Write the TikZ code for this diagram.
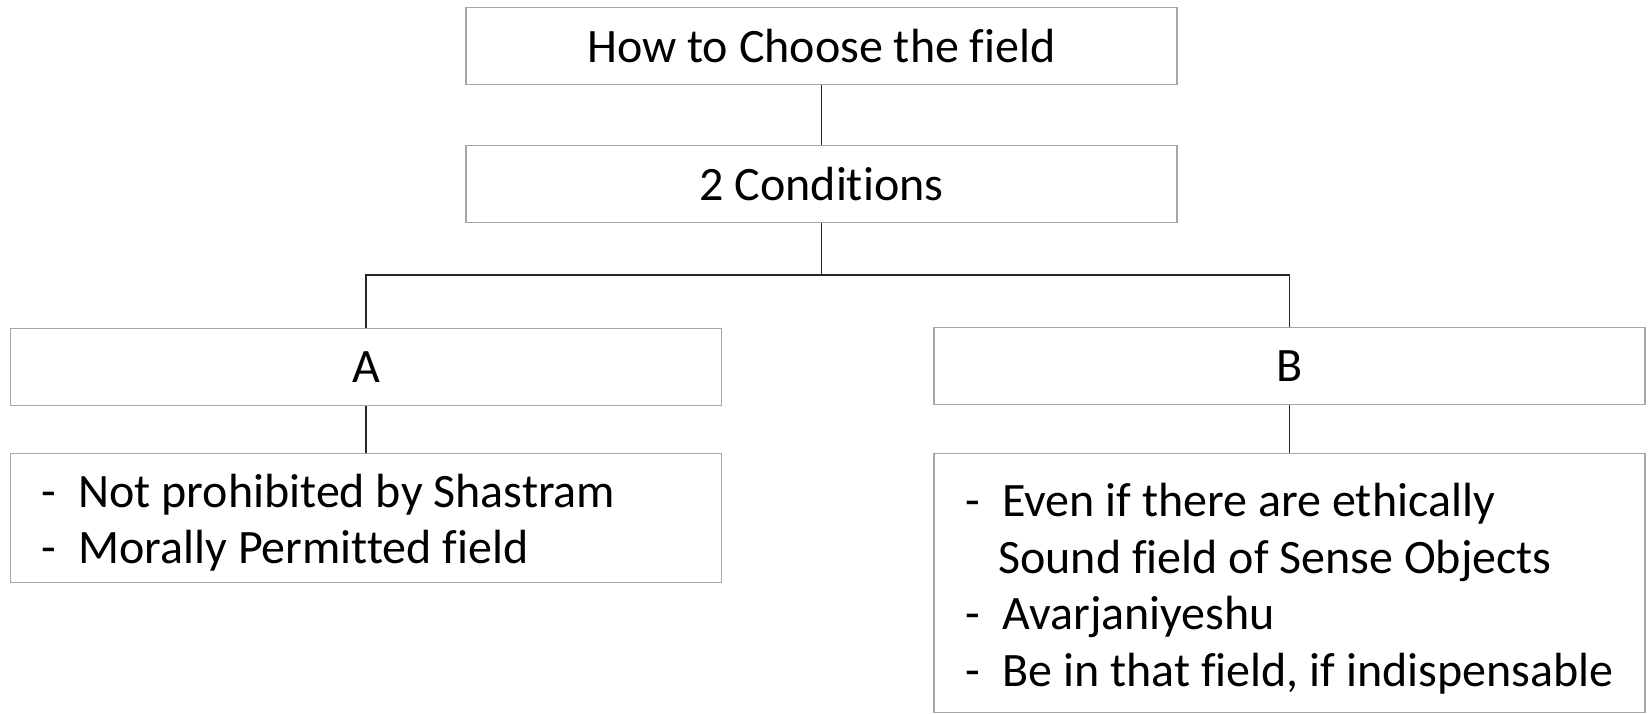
\documentclass[tikz,border=0pt]{standalone}
\usepackage{fontspec}
\setmainfont{Carlito}[Ligatures=NoCommon]
\definecolor{boxline}{HTML}{A6A6A6}
\definecolor{linkline}{HTML}{262626}
\newcommand{\dashitem}{\makebox[18.5pt][l]{-}}
\begin{document}
\begin{tikzpicture}[x=0.5pt,y=-0.5pt,
  box/.style={draw=boxline, line width=0.55pt, fill=white, inner sep=0pt,
    minimum width=355.5pt, font=\fontsize{24}{28.25}\selectfont},
  titlebox/.style={box, minimum height=38.75pt},
  itemtext/.style={anchor=base west, inner sep=0pt,
    font=\fontsize{24}{28.25}\selectfont},
  link/.style={draw=linkline, line width=0.7pt}
]
\useasboundingbox (0,0) rectangle (1648,713);

% header boxes
\node[titlebox] (top)  at (821.5,46)  {How to Choose the field};
\node[titlebox] (cond) at (821.5,184) {2 Conditions};

% the two conditions
\node[titlebox] (A) at (366,367)    {A};
\node[titlebox] (B) at (1289.5,366) {B};

% detail boxes
\node[box, minimum height=64.75pt] (Ad) at (366,518)    {};
\node[box, minimum height=129.5pt] (Bd) at (1289.5,583) {};

\node[itemtext] (Atext) at (41,507) {%
  \begin{tabular}[t]{@{}l@{}}
  \dashitem Not prohibited by Shastram\\
  \dashitem Morally Permitted field
  \end{tabular}};

\node[itemtext] (Btext) at (965,516.5) {%
  \begin{tabular}[t]{@{}l@{}}
  \dashitem Even if there are ethically\\
  \hspace{16.5pt}Sound field of Sense Objects\\
  \dashitem Avarjaniyeshu\\
  \dashitem Be in that field, if indispensable
  \end{tabular}};

% connectors
\coordinate (bus) at (821.5,275);
\draw[link] (top.south) -- (cond.north);
\draw[link] (cond.south) -- (bus);
\draw[link] (bus) -| (A.north);
\draw[link] (bus) -| (B.north);
\draw[link] (A.south) -- (Ad.north);
\draw[link] (B.south) -- (Bd.north);
\end{tikzpicture}
\end{document}
